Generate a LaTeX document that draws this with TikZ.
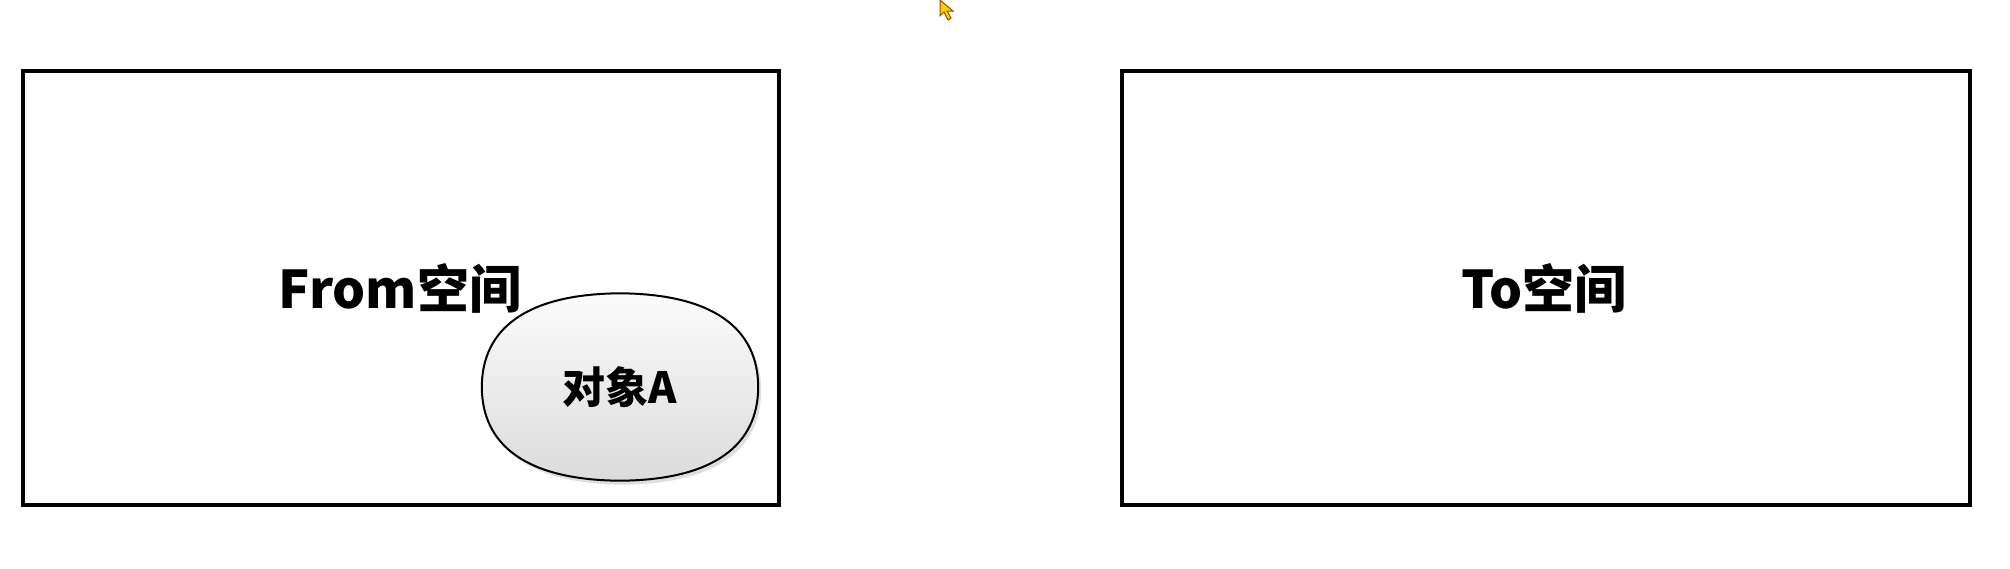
\documentclass[tikz,border=0pt]{standalone}
\usepackage{fontspec}
\setmainfont{Noto Sans CJK SC}
\usetikzlibrary{shadows}

\tikzset{
    spacebox/.style={draw, line width=4pt, fill=white},
    objshape/.style={draw, line width=2pt, top color=gray!3, bottom color=gray!28,
        drop shadow={shadow xshift=3pt, shadow yshift=-4pt, opacity=0.25}},
    objnode/.style={inner sep=0pt, minimum width=276pt, minimum height=187pt}
}

\begin{document}
\begin{tikzpicture}[x=1pt, y=-1pt]
    % Canvas
    \useasboundingbox (0,0) rectangle (2010,568);

    % Spaces
    \draw[spacebox] (23,71) rectangle (779,505);
    \draw[spacebox] (1122,71) rectangle (1970,505);

    % Space labels
    \node[font=\bfseries\fontsize{52}{60}\selectfont] (from) at (400,288) {From空间};
    \node[font=\bfseries\fontsize{52}{60}\selectfont] (to) at (1544,288) {To空间};

    % Object in the From space
    \node[objnode] (objA) at (620,387) {};
    \path[objshape] (objA.north)
        .. controls (714,294) and (758,329) .. (objA.east)
        .. controls (758,445) and (714,480) .. (objA.south)
        .. controls (526,480) and (482,445) .. (objA.west)
        .. controls (482,329) and (526,294) .. cycle;
    \node[font=\bfseries\fontsize{43}{50}\selectfont] (objAtext) at (objA) {对象A};

    % Mouse cursor
    \draw[fill=yellow!70!orange, draw=orange!60!black, line width=1pt]
        (940,0) -- (940,16) -- (944,12) -- (948,20) -- (951,18) -- (947,11) -- (953,11) -- cycle;
\end{tikzpicture}
\end{document}
